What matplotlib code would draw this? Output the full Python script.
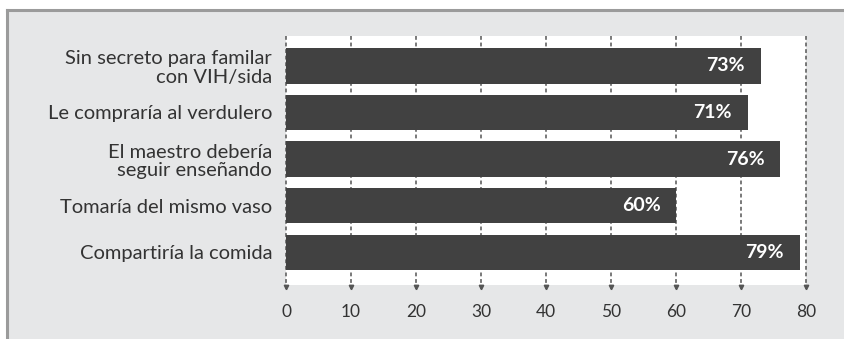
import matplotlib.pyplot as plt
from matplotlib.lines import Line2D

categories = ['Sin secreto para familar\ncon VIH/sida',
              'Le compraría al verdulero',
              'El maestro debería\nseguir enseñando',
              'Tomaría del mismo vaso',
              'Compartiría la comida']
values = [73, 71, 76, 60, 79]
xticks = [0, 10, 20, 30, 40, 50, 60, 70, 80]

plt.rcParams['font.family'] = ['Lato', 'DejaVu Sans']

fig = plt.figure(figsize=(8.44, 3.39), dpi=100)
fig.patch.set_facecolor('white')

# grey panel with a darker edge on top and left
panel = plt.Rectangle((7 / 844, 0), 1, 1 - 10 / 339, transform=fig.transFigure,
                      facecolor='#e6e7e8', edgecolor='none', zorder=-5)
fig.patches.append(panel)
fig.add_artist(Line2D([7 / 844, 1], [1 - 10 / 339, 1 - 10 / 339],
                      transform=fig.transFigure, color='#9b9b9b', lw=2.2, zorder=-4))
fig.add_artist(Line2D([7 / 844, 7 / 844], [0, 1 - 10 / 339],
                      transform=fig.transFigure, color='#9b9b9b', lw=2.2, zorder=-4))

ax = fig.add_axes([286 / 844, 1 - 285 / 339, 520 / 844, 249 / 339])
ax.set_zorder(2)
ax.set_facecolor('white')

ypos = list(range(len(categories)))
ax.barh(ypos, values, height=0.76, color='#414141', zorder=3)

for y, v in zip(ypos, values):
    ax.text(v - 2.4, y, f'{v}%', ha='right', va='center', color='white',
            fontsize=14, fontweight='bold', zorder=4)

ax.set_xlim(0, 80)
ax.set_ylim(4.70, -0.64)

# dashed guides that run past the bottom edge and end in a small arrow
for t in xticks:
    ax.plot([t, t], [1.0, -0.015], transform=ax.get_xaxis_transform(),
            color='#555555', lw=1.1, ls=(0, (2.5, 1.8)), clip_on=False, zorder=1)
    ax.plot([t], [-0.01], transform=ax.get_xaxis_transform(), marker='v',
            color='#555555', markersize=3.2, clip_on=False, zorder=1)

ax.set_xticks(xticks)
ax.set_xticklabels([str(t) for t in xticks], fontsize=12.5, color='#333333')
ax.set_yticks(ypos)
ax.set_yticklabels(categories, fontsize=14.5, color='#333333', linespacing=1.12)
ax.tick_params(axis='both', length=0)
ax.tick_params(axis='x', pad=14)
ax.tick_params(axis='y', pad=10)
for s in ax.spines.values():
    s.set_visible(False)

fig.savefig('out.png', dpi=100)
